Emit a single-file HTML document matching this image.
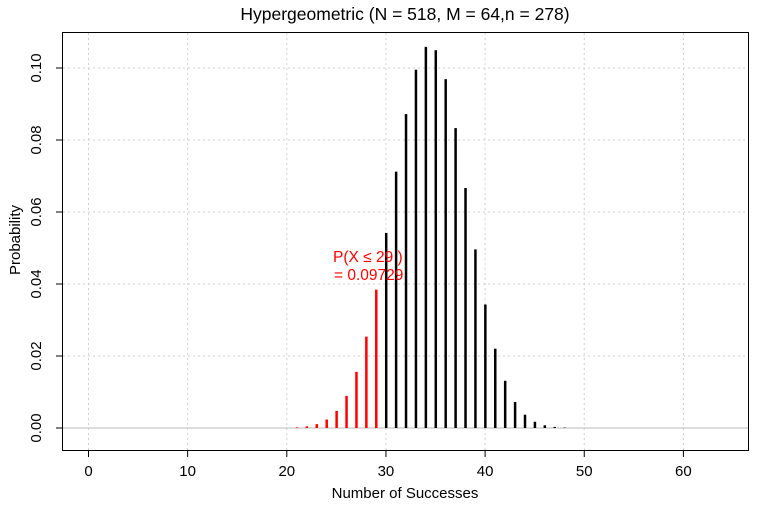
<!DOCTYPE html>
<html><head><meta charset="utf-8"><style>body{margin:0;background:#fff}svg{display:block;font-family:"Liberation Sans",Arial,sans-serif}</style></head>
<body>
<svg id="s" width="771" height="518" xmlns="http://www.w3.org/2000/svg">
<rect x="0" y="0" width="771" height="518" fill="#fff"/>
<g id="grid" stroke="#d0d0d0" stroke-dasharray="2,3" stroke-width="1"></g>
<line x1="62" y1="428" x2="749" y2="428" stroke="#bbb" stroke-width="1"/>
<g id="bars"></g>
<rect x="62.5" y="32.5" width="686" height="418" fill="none" stroke="#000" stroke-width="1"/>
<g id="ax" stroke="#000" stroke-width="1"></g>
<g id="lab" font-size="15" fill="#000"></g>
<text x="405" y="20" font-size="17.5" text-anchor="middle">Hypergeometric (N = 518, M = 64,n = 278)</text>
<text x="405" y="498" font-size="15" text-anchor="middle">Number of Successes</text>
<text transform="translate(20,240) rotate(-90)" font-size="15" text-anchor="middle">Probability</text>
<text x="333" y="262" font-size="15.5" fill="#f00">P(X ≤  29 )</text>
<text x="334" y="280" font-size="15.5" fill="#f00"> =  0.09729</text>
</svg>
<script>
var ns="http://www.w3.org/2000/svg";
function el(p,t,a,txt){var e=document.createElementNS(ns,t);for(var k in a)e.setAttribute(k,a[k]);if(txt!=null)e.textContent=txt;document.getElementById(p).appendChild(e);}
function X(v){return 88.5+v*9.915;}function Y(p){return 428-p*3600;}
for(var v=0;v<=60;v+=10){el("grid","line",{x1:X(v),y1:33,x2:X(v),y2:450});el("ax","line",{x1:X(v),y1:451,x2:X(v),y2:457});el("lab","text",{x:X(v),y:476,"text-anchor":"middle"},String(v));}
for(var i=0;i<=5;i++){var p=i*0.02,y=Y(p);if(i>0)el("grid","line",{x1:63,y1:y,x2:749,y2:y});el("ax","line",{x1:56,y1:y,x2:62,y2:y});el("lab","text",{transform:"translate(41,"+y+") rotate(-90)","text-anchor":"middle"},p.toFixed(2));}
function lf(n){var s=0;for(var i=2;i<=n;i++)s+=Math.log(i);return s;}
function lc(n,k){return lf(n)-lf(k)-lf(n-k);}
var N=518,M=64,n=278;
for(var k=0;k<=64;k++){var pr=Math.exp(lc(M,k)+lc(N-M,n-k)-lc(N,n));var h=pr*3600;if(h<0.3)continue;
el("bars","rect",{x:X(k)-1,y:428-h,width:2.5,height:h,fill:k<=29?"#f00":"#000"});}
</script>
</body></html>
